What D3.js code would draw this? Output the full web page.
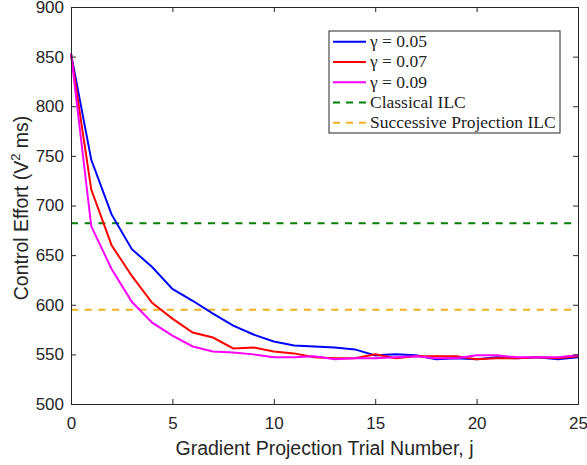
<!DOCTYPE html>
<html>
<head>
<meta charset="utf-8">
<script src="https://cdn.jsdelivr.net/npm/d3@7"></script>
<style>
  body { margin: 0; background: #fff; }
  svg text { font-family: "Liberation Sans", Arial, sans-serif; }
</style>
</head>
<body>
<div id="chart"></div>
<script>
var trials = d3.range(0, 26);
var gamma005 = [853, 746, 691, 656, 638, 616, 604, 591, 579, 570, 563, 559, 558, 557, 555, 549, 550, 549, 545, 546, 545, 547, 546, 547, 545, 547];
var gamma007 = [853, 716, 660, 629, 602, 586, 572, 567, 556, 557, 553, 551, 547, 546, 546, 550, 546, 548, 548, 548, 545, 546, 546, 547, 546, 548];
var gamma009 = [853, 679, 636, 603, 582, 569, 558, 553, 552, 550, 547, 547, 548, 545, 546, 546, 547, 548, 546, 546, 549, 549, 547, 547, 547, 549];
var classicalILC = 682;
var successiveILC = 595;
var xTicks = [0, 5, 10, 15, 20, 25];
var yTicks = [500, 550, 600, 650, 700, 750, 800, 850, 900];

var margin = {top: 7, right: 9, bottom: 61, left: 71},
    width = 587 - margin.left - margin.right,
    height = 465 - margin.top - margin.bottom;

var svg = d3.select("#chart")
  .append("svg")
  .attr("width", 587)
  .attr("height", 465)
  .append("g")
  .attr("transform", "translate(" + margin.left + "," + margin.top + ")");

var x = d3.scaleLinear().domain([0, 25]).range([0, width]);
var y = d3.scaleLinear().domain([500, 900]).range([height, 0]);

var axisColor = "#262626";

// reference lines
svg.append("line")
  .attr("x1", 0).attr("x2", width)
  .attr("y1", y(classicalILC)).attr("y2", y(classicalILC))
  .attr("stroke", "#007f00").attr("stroke-width", 2)
  .attr("stroke-dasharray", "7,6.7");
svg.append("line")
  .attr("x1", 0).attr("x2", width)
  .attr("y1", y(successiveILC)).attr("y2", y(successiveILC))
  .attr("stroke", "#edb120").attr("stroke-width", 2)
  .attr("stroke-dasharray", "7,6.7");

var series = [
  {name: "\u03b3 = 0.05", values: gamma005, color: "#0000ff"},
  {name: "\u03b3 = 0.07", values: gamma007, color: "#ff0000"},
  {name: "\u03b3 = 0.09", values: gamma009, color: "#ff00ff"}
];

var line = d3.line()
  .x(function(d, i) { return x(trials[i]); })
  .y(function(d) { return y(d); });

svg.selectAll(".series")
  .data(series)
  .enter()
  .append("path")
  .attr("fill", "none")
  .attr("stroke", function(d) { return d.color; })
  .attr("stroke-width", 2)
  .attr("d", function(d) { return line(d.values); });

// axes with inward ticks (box style)
svg.append("g")
  .attr("transform", "translate(0," + height + ")")
  .call(d3.axisBottom(x).tickValues(xTicks).tickSize(-5).tickPadding(13));
svg.append("g")
  .call(d3.axisTop(x).tickValues(xTicks).tickSize(-5).tickFormat(""));
svg.append("g")
  .call(d3.axisLeft(y).tickValues(yTicks).tickSize(-5).tickPadding(7));
svg.append("g")
  .attr("transform", "translate(" + width + ",0)")
  .call(d3.axisRight(y).tickValues(yTicks).tickSize(-5).tickFormat(""));

svg.selectAll(".domain").attr("stroke", axisColor).attr("stroke-width", 1);
svg.selectAll(".tick line").attr("stroke", axisColor);
svg.selectAll(".tick text").attr("fill", axisColor).style("font-size", "17px");

// axis labels
svg.append("text")
  .attr("text-anchor", "middle")
  .attr("x", width / 2)
  .attr("y", height + 51)
  .attr("fill", axisColor)
  .style("font-size", "19.5px")
  .text("Gradient Projection Trial Number, j");

var yl = svg.append("text")
  .attr("text-anchor", "middle")
  .attr("transform", "rotate(-90)")
  .attr("x", -(208 - margin.top))
  .attr("y", 28 - margin.left)
  .attr("fill", axisColor)
  .style("font-size", "19.5px");
yl.append("tspan").text("Control Effort (V");
yl.append("tspan").attr("dy", -8).style("font-size", "13px").text("2");
yl.append("tspan").attr("dy", 8).text(" ms)");

// legend
var legendItems = [
  {name: "\u03b3 = 0.05", color: "#0000ff", dash: null},
  {name: "\u03b3 = 0.07", color: "#ff0000", dash: null},
  {name: "\u03b3 = 0.09", color: "#ff00ff", dash: null},
  {name: "Classical ILC", color: "#007f00", dash: "7,6"},
  {name: "Successive Projection ILC", color: "#edb120", dash: "7,6"}
];

var lg = svg.append("g").attr("transform", "translate(" + (329 - margin.left) + "," + (31 - margin.top) + ")");
lg.append("rect")
  .attr("width", 231).attr("height", 102)
  .attr("fill", "#fff").attr("stroke", axisColor).attr("stroke-width", 1);

var rows = lg.selectAll(".row")
  .data(legendItems)
  .enter()
  .append("g")
  .attr("transform", function(d, i) { return "translate(0," + (10.7 + i * 20.25) + ")"; });

rows.append("line")
  .attr("x1", 4).attr("x2", 37)
  .attr("stroke", function(d) { return d.color; })
  .attr("stroke-width", 2)
  .attr("stroke-dasharray", function(d) { return d.dash; });

rows.append("text")
  .attr("x", 41)
  .attr("y", 5.5)
  .attr("fill", "#222")
  .style("font-family", "'Liberation Serif', 'DejaVu Serif', serif")
  .style("font-size", "17.5px")
  .text(function(d) { return d.name; });
</script>
</body>
</html>
